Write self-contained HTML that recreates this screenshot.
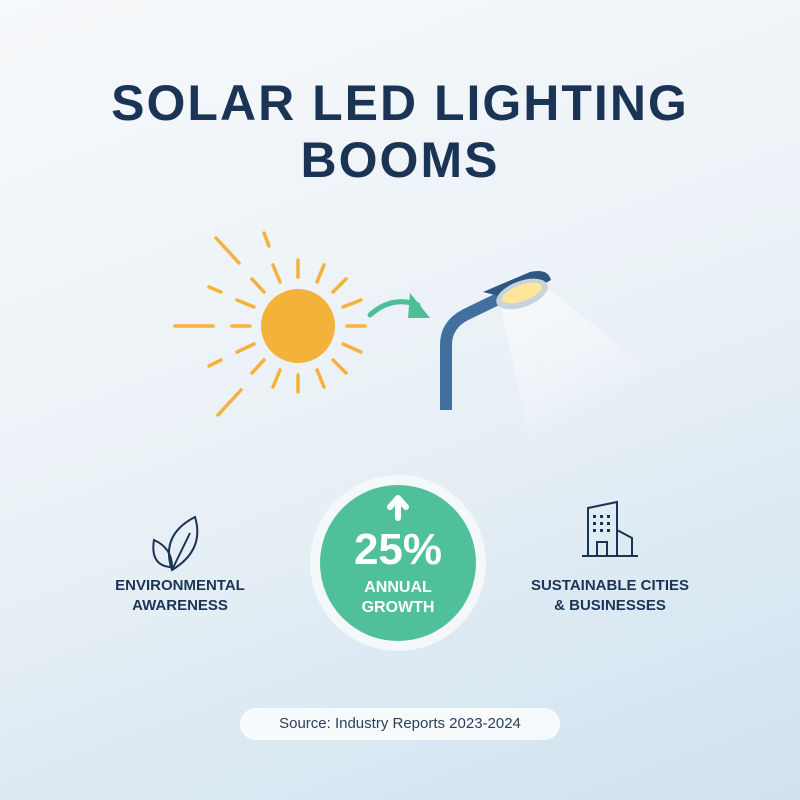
<!DOCTYPE html>
<html><head><meta charset="utf-8"><style>
html,body{margin:0;padding:0}
body{width:800px;height:800px;overflow:hidden;background:linear-gradient(160deg,#f7f9fb 0%,#eaf1f6 50%,#cfe2ef 100%);font-family:"Liberation Sans",sans-serif;position:relative}
.t{position:absolute;left:0;width:800px;text-align:center;color:#1b3455;font-weight:900;font-size:50px;letter-spacing:2px}
.lbl{position:absolute;text-align:center;color:#1b3455;font-weight:bold;font-size:15px;line-height:20px;width:200px}
</style></head><body>
<div class="t" style="top:74px">SOLAR LED LIGHTING</div>
<div class="t" style="top:131px">BOOMS</div>
<svg width="800" height="800" style="position:absolute;left:0;top:0">
<defs><linearGradient id="cone" x1="0" y1="0" x2="0.6" y2="1"><stop offset="0" stop-color="#fff" stop-opacity="0.6"/><stop offset="1" stop-color="#fff" stop-opacity="0"/></linearGradient></defs>
<polygon points="500,305 550,290 650,370 530,440" fill="url(#cone)"/>
<g stroke="#f5b23a" stroke-width="3.5" stroke-linecap="round">
<line x1="175" y1="326" x2="213" y2="326"/><line x1="232" y1="326" x2="250" y2="326"/><line x1="347" y1="326" x2="365" y2="326"/>
<line x1="298" y1="260" x2="298" y2="277"/><line x1="298" y1="375" x2="298" y2="392"/>
<line x1="216" y1="238" x2="239" y2="263"/><line x1="264" y1="233" x2="269" y2="246"/>
<line x1="273" y1="265" x2="280" y2="282"/><line x1="317" y1="282" x2="324" y2="265"/>
<line x1="252" y1="279" x2="264" y2="292"/><line x1="333" y1="292" x2="346" y2="279"/>
<line x1="209" y1="287" x2="221" y2="292"/><line x1="237" y1="300" x2="254" y2="307"/><line x1="343" y1="307" x2="361" y2="300"/>
<line x1="237" y1="352" x2="254" y2="344"/><line x1="343" y1="344" x2="361" y2="352"/>
<line x1="209" y1="366" x2="221" y2="360"/><line x1="252" y1="373" x2="264" y2="360"/><line x1="333" y1="360" x2="346" y2="373"/>
<line x1="273" y1="387" x2="280" y2="370"/><line x1="317" y1="370" x2="324" y2="387"/><line x1="218" y1="415" x2="241" y2="390"/>
</g>
<circle cx="298" cy="326" r="37" fill="#f5b23a"/>
<path d="M370,315 Q392,295 418,305" stroke="#4dbf98" stroke-width="5" fill="none" stroke-linecap="round"/>
<polygon points="410,293 430,318 408,318" fill="#4dbf98"/>
<path d="M446,410 L446,345 Q446,325 465,315 L500,298" stroke="#416f9e" stroke-width="12" fill="none"/>
<path d="M483,292 L530,272 Q548,268 551,280 L515,300 Z" fill="#2e5782"/>
<ellipse cx="522" cy="294" rx="27" ry="13" transform="rotate(-20 522 294)" fill="#c9d3dc"/>
<ellipse cx="522" cy="293" rx="21" ry="8" transform="rotate(-20 522 293)" fill="#fde69a"/>
<circle cx="398" cy="563" r="88" fill="#f4f8fb"/>
<circle cx="398" cy="563" r="78" fill="#4fc09a"/>
<path d="M398,518 L398,500 M390,507 L398,498 L406,507" stroke="#fff" stroke-width="6" fill="none" stroke-linecap="round" stroke-linejoin="round"/>
<g stroke="#1b3455" stroke-width="2" fill="none">
<path d="M172,570 Q160,535 195,517 Q205,550 172,570 Z"/><path d="M172,570 L190,533"/>
<path d="M170,567 Q150,565 154,540 Q172,548 172,567 Z"/>
<path d="M588,555 L588,508 L617,502 L617,555 M617,530 L632,538 L632,555 M582,556 L638,556 M597,556 L597,542 L607,542 L607,556"/>
</g>
<g fill="#1b3455"><rect x="593" y="515" width="3" height="3"/><rect x="600" y="515" width="3" height="3"/><rect x="607" y="515" width="3" height="3"/><rect x="593" y="522" width="3" height="3"/><rect x="600" y="522" width="3" height="3"/><rect x="607" y="522" width="3" height="3"/><rect x="593" y="529" width="3" height="3"/><rect x="600" y="529" width="3" height="3"/><rect x="607" y="529" width="3" height="3"/></g>
</svg>
<div style="position:absolute;left:298px;top:525px;width:200px;text-align:center;color:#fff;font-weight:900;font-size:44px">25%</div>
<div class="lbl" style="left:298px;top:578px;color:#fff;font-size:16px">ANNUAL<br>GROWTH</div>
<div class="lbl" style="left:80px;top:576px">ENVIRONMENTAL<br>AWARENESS</div>
<div class="lbl" style="left:510px;top:576px">SUSTAINABLE CITIES<br>&amp; BUSINESSES</div>
<div style="position:absolute;left:240px;top:708px;width:320px;height:32px;border-radius:16px;background:rgba(255,255,255,0.8);text-align:center;line-height:32px;color:#2a3f5a;font-size:15px">Source: Industry Reports 2023-2024</div>
</body></html>
